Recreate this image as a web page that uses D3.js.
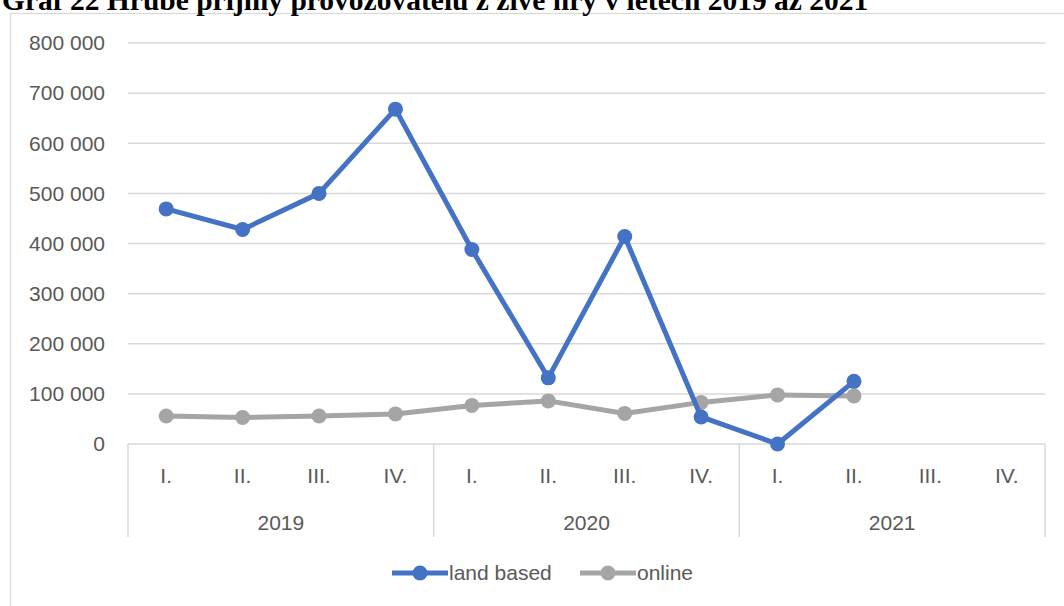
<!DOCTYPE html>
<html>
<head>
<meta charset="utf-8">
<script src="https://d3js.org/d3.v7.min.js"></script>
<style>
  body { margin: 0; background: #fff; }
  text { font-family: "Liberation Sans", Arial, sans-serif; fill: #595959; }
</style>
</head>
<body>
<svg width="1064" height="606"></svg>
<script>
// data
const years = ["2019", "2020", "2021"];
const quarters = ["I.", "II.", "III.", "IV."];
const landBased = [469000, 428000, 500000, 668000, 388000, 132000, 414000, 54000, 0, 125000];
const online = [56000, 53000, 56000, 60000, 77000, 86000, 61000, 83000, 98000, 96000];
const yTicks = [0, 100000, 200000, 300000, 400000, 500000, 600000, 700000, 800000];

const svg = d3.select("svg");
const plotLeft = 128, plotRight = 1045, plotTop = 43, plotBottom = 444;

// category keys: year + quarter
const cats = [];
years.forEach(y => quarters.forEach(q => cats.push(y + "-" + q)));

const x = d3.scaleBand().domain(cats).range([plotLeft, plotRight]);
const y = d3.scaleLinear().domain([0, 800000]).range([plotBottom, plotTop]);

// chart border
svg.append("rect")
  .attr("x", 10.5).attr("y", 13.5)
  .attr("width", 1100).attr("height", 700)
  .attr("fill", "none").attr("stroke", "#d9d9d9").attr("stroke-width", 1.2);

// title (cut off at the top of the picture, as in the source)
svg.append("text")
  .attr("x", 2).attr("y", 9.5)
  .style("font-family", "'Liberation Serif', 'Times New Roman', serif")
  .style("font-weight", "bold").style("font-size", "29.5px").style("fill", "#000")
  .text("Graf 22 Hrubé příjmy provozovatelů z živé hry v letech 2019 až 2021");

// gridlines
svg.append("g").selectAll("line").data(yTicks).join("line")
  .attr("x1", plotLeft).attr("x2", plotRight)
  .attr("y1", d => y(d)).attr("y2", d => y(d))
  .attr("stroke", "#d9d9d9").attr("stroke-width", 1.5);

// y labels
const fmt = d => d3.format(",")(d).replace(/,/g, " ");
svg.append("g").selectAll("text").data(yTicks).join("text")
  .attr("x", 105).attr("y", d => y(d))
  .attr("dy", "0.35em").attr("text-anchor", "end")
  .style("font-size", "21px")
  .text(fmt);

// x axis: separators between years
const sepX = [plotLeft].concat(years.map(yr => x(yr + "-IV.") + x.bandwidth()));
svg.append("g").selectAll("line").data(sepX).join("line")
  .attr("x1", d => d).attr("x2", d => d)
  .attr("y1", plotBottom).attr("y2", 537)
  .attr("stroke", "#d9d9d9").attr("stroke-width", 1.5);

// quarter labels
svg.append("g").selectAll("text").data(cats).join("text")
  .attr("x", d => x(d) + x.bandwidth() / 2).attr("y", 483)
  .attr("text-anchor", "middle").style("font-size", "21px")
  .text(d => d.split("-")[1]);

// year labels
svg.append("g").selectAll("text").data(years).join("text")
  .attr("x", d => (x(d + "-I.") + x(d + "-IV.") + x.bandwidth()) / 2).attr("y", 530)
  .attr("text-anchor", "middle").style("font-size", "21px")
  .text(d => d);

// series
const series = [
  { name: "land based", values: landBased, color: "#4472c4" },
  { name: "online", values: online, color: "#a5a5a5" }
];
const line = d3.line()
  .x((d, i) => x(cats[i]) + x.bandwidth() / 2)
  .y(d => y(d));

// draw online first so land based sits on top
[series[1], series[0]].forEach(s => {
  svg.append("path").datum(s.values)
    .attr("d", line).attr("fill", "none")
    .attr("stroke", s.color).attr("stroke-width", 5)
    .attr("stroke-linejoin", "round");
  svg.append("g").selectAll("circle").data(s.values).join("circle")
    .attr("cx", (d, i) => x(cats[i]) + x.bandwidth() / 2)
    .attr("cy", d => y(d)).attr("r", 7.5)
    .attr("fill", s.color);
});

// legend
const legX = [392, 580];
series.forEach((s, i) => {
  const g = svg.append("g").attr("transform", "translate(" + legX[i] + ",573)");
  g.append("line").attr("x1", 0).attr("x2", 56)
    .attr("stroke", s.color).attr("stroke-width", 5);
  g.append("circle").attr("cx", 28).attr("r", 7.5).attr("fill", s.color);
  g.append("text").attr("x", 57).attr("dy", "0.35em")
    .style("font-size", "21px").text(s.name);
});
</script>
</body>
</html>
